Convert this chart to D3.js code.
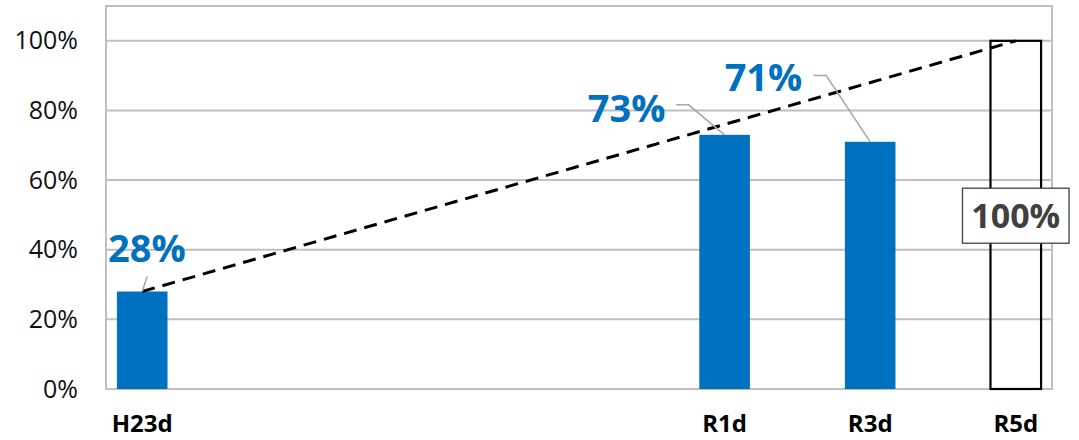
<!DOCTYPE html>
<html>
<head>
<meta charset="utf-8">
<script src="https://cdn.jsdelivr.net/npm/d3@7"></script>
<style>
  html, body { margin: 0; padding: 0; background: #fff; }
  svg { display: block; font-family: "Open Sans", "Noto Sans", sans-serif; }
</style>
</head>
<body>
<svg id="chart" width="1079" height="440"></svg>
<script>
// Fiscal years on the category axis (one slot per year)
const years = ["H23d", "H24d", "H25d", "H26d", "H27d", "H28d", "H29d", "H30d",
               "R1d", "R2d", "R3d", "R4d", "R5d"];
// Achieved rates
const resultYears = ["H23d", "R1d", "R3d"];
const resultValues = [0.28, 0.73, 0.71];
// Target
const targetYear = "R5d";
const targetValue = 1.0;
// Trend from the first result to the target
const trendYears = ["H23d", "R5d"];
const trendValues = [0.28, 1.0];
// Value axis
const yTicks = [0, 0.2, 0.4, 0.6, 0.8, 1.0];
const yMax = 1.1;

// Layout
const plot = { left: 106, right: 1052, top: 6, bottom: 389 };
const blue = "#0070C0";
const grid = "#BFBFBF";

// Label placement relative to each bar's top centre: text offset and leader path
const labelStyle = [
  { dx: 4.7,   dy: -29.6, leader: [[5, -15]] },
  { dx: -98,   dy: -13.3, leader: [[-48.3, -30], [-36, -30]] },
  { dx: -106.7, dy: -50.3, leader: [[-56.7, -66.3], [-44, -66.3]] }
];

const svg = d3.select("#chart");

const x = d3.scaleBand()
  .domain(years)
  .range([plot.left, plot.right])
  .paddingInner(0.305)
  .paddingOuter(0.15);

const y = d3.scaleLinear()
  .domain([0, yMax])
  .range([plot.bottom, plot.top]);

// Horizontal gridlines
svg.append("g")
  .selectAll("line")
  .data(yTicks.filter(d => d > 0))
  .join("line")
  .attr("x1", plot.left).attr("x2", plot.right)
  .attr("y1", d => y(d)).attr("y2", d => y(d))
  .attr("stroke", grid).attr("stroke-width", 2);

// Plot area frame
svg.append("rect")
  .attr("x", plot.left).attr("y", plot.top)
  .attr("width", plot.right - plot.left)
  .attr("height", plot.bottom - plot.top)
  .attr("fill", "none")
  .attr("stroke", grid).attr("stroke-width", 2);

// Value axis labels
const yAxis = svg.append("g")
  .attr("transform", `translate(${plot.left},0)`)
  .call(d3.axisLeft(y).tickValues(yTicks).tickFormat(d3.format(".0%")).tickSize(0).tickPadding(28));
yAxis.select(".domain").remove();
yAxis.selectAll("text")
  .attr("font-family", "Open Sans, sans-serif")
  .attr("font-size", 25)
  .attr("fill", "#111");

// Category axis labels (only years that carry a value)
const labelled = new Set(resultYears.concat([targetYear]));
const xAxis = svg.append("g")
  .attr("transform", `translate(0,${plot.bottom})`)
  .call(d3.axisBottom(x).tickSize(0).tickPadding(26)
    .tickFormat(d => labelled.has(d) ? d : ""));
xAxis.select(".domain").remove();
xAxis.selectAll("text")
  .attr("font-family", "Open Sans, sans-serif")
  .attr("font-size", 24)
  .attr("font-weight", "bold")
  .attr("fill", "#000");

// Result bars
const results = resultYears.map((yr, i) => ({ yr, v: resultValues[i], s: labelStyle[i] }));
svg.append("g")
  .selectAll("rect")
  .data(results)
  .join("rect")
  .attr("x", d => x(d.yr))
  .attr("width", x.bandwidth())
  .attr("y", d => y(d.v))
  .attr("height", d => y(0) - y(d.v))
  .attr("fill", blue);

// Target bar (outline only)
svg.append("rect")
  .attr("x", x(targetYear))
  .attr("width", x.bandwidth())
  .attr("y", y(targetValue))
  .attr("height", y(0) - y(targetValue))
  .attr("fill", "none")
  .attr("stroke", "#000")
  .attr("stroke-width", 2.2);

// Dashed trend line
const cx = d => x(d) + x.bandwidth() / 2;
const trend = trendYears.map((yr, i) => [cx(yr), y(trendValues[i])]);
svg.append("path")
  .attr("d", d3.line()(trend))
  .attr("fill", "none")
  .attr("stroke", "#000")
  .attr("stroke-width", 3)
  .attr("stroke-dasharray", "13,8");

// Leader lines from labels to bar tops
svg.append("g")
  .selectAll("path")
  .data(results)
  .join("path")
  .attr("d", d => {
    const bx = cx(d.yr), by = y(d.v);
    const pts = d.s.leader.map(([ox, oy]) => [bx + ox, by + oy]).concat([[bx, by]]);
    return d3.line()(pts);
  })
  .attr("fill", "none")
  .attr("stroke", "#A6A6A6")
  .attr("stroke-width", 1.5);

// Result value labels
svg.append("g")
  .selectAll("text")
  .data(results)
  .join("text")
  .attr("x", d => cx(d.yr) + d.s.dx)
  .attr("y", d => y(d.v) + d.s.dy)
  .attr("text-anchor", "middle")
  .attr("font-family", "Open Sans, sans-serif")
  .attr("font-size", 38)
  .attr("font-weight", "bold")
  .attr("fill", blue)
  .text(d => d3.format(".0%")(d.v));

// Target value label in a box, centred on the bar
const tcx = cx(targetYear);
const tcy = (y(targetValue) + y(0)) / 2 + 0.8;
const tg = svg.append("g");
tg.append("rect")
  .attr("x", tcx - 53.3).attr("y", tcy - 27.5)
  .attr("width", 106.6).attr("height", 55)
  .attr("fill", "#fff")
  .attr("stroke", "#404040").attr("stroke-width", 1.3);
tg.append("text")
  .attr("x", tcx).attr("y", tcy)
  .attr("dy", "0.36em")
  .attr("text-anchor", "middle")
  .attr("font-family", "Open Sans, sans-serif")
  .attr("font-size", 34)
  .attr("font-weight", "bold")
  .attr("fill", "#404040")
  .text(d3.format(".0%")(targetValue));
</script>
</body>
</html>
